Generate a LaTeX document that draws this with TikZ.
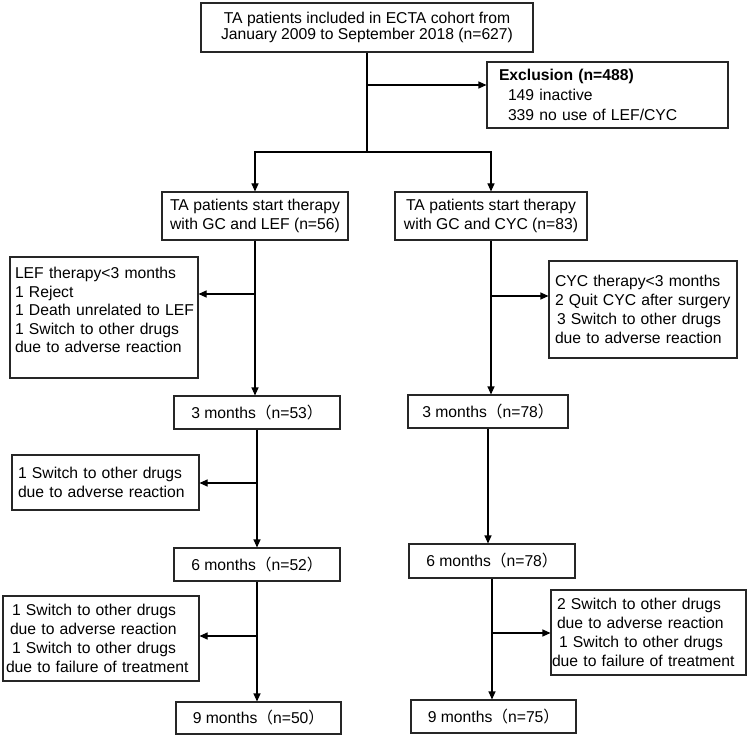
\documentclass[tikz,border=0pt]{standalone}
\usepackage{fontspec}
\setmainfont{Liberation Sans}
\newfontfamily\cjk{Noto Sans CJK SC}
\usetikzlibrary{arrows.meta}
\newcommand\fs{\fontsize{15.7}{19}\selectfont}
\newcommand\mb[1]{\mbox{#1}}
\newcommand\lp{{\cjk （}}
\newcommand\rp{{\cjk ）}}
\begin{document}
\begin{tikzpicture}[x=1pt,y=-1pt,
  box/.style={draw=black!85, line width=1.1pt, inner sep=0pt, font=\fs},
  cbox/.style={box, align=center},
  lbox/.style={box, align=left},
  ln/.style={line width=1.1pt},
  arr/.style={line width=1.1pt, -{Triangle[length=8pt,width=7pt]}}]
\useasboundingbox (0,0) rectangle (750,738);

% top row
\node[cbox, font=\fontsize{15.7}{16.8}\selectfont, minimum width=332pt, minimum height=49pt] (top) at (367,27.5)
  {TA patients included in ECTA cohort from\\January 2009 to September 2018 (n=627)};
\node[lbox, font=\fontsize{15.7}{20}\selectfont, minimum width=241pt, minimum height=66pt, text width=217pt] (excl) at (607.5,95)
  {\mb{\textbf{Exclusion (n=488)}}\\\mb{\hspace*{9pt}149 inactive}\\\mb{\hspace*{9pt}339 no use of LEF/CYC}};

% start boxes
\node[cbox, minimum width=186pt, minimum height=48pt] (lef) at (255,216)
  {TA patients start therapy\\with GC and LEF (n=56)};
\node[cbox, minimum width=192pt, minimum height=48pt] (cycs) at (491,216)
  {TA patients start therapy\\with GC and CYC (n=83)};

% left column
\node[lbox, font=\fontsize{15.7}{18.5}\selectfont, minimum width=188pt, minimum height=121pt, text width=178pt] (lefx) at (104,317.5)
  {\mb{LEF therapy<3 months}\\\mb{1 Reject}\\\mb{1 Death unrelated to LEF}\\\mb{1 Switch to other drugs}\\\mb{due to adverse reaction}\\[-4pt]\mbox{}};
\node[cbox, minimum width=166pt, minimum height=33pt] (m3l) at (257,412.5) {3 months\lp n=53\rp};
\node[lbox, minimum width=187pt, minimum height=55pt, text width=175pt] (sw1) at (105.5,482.5)
  {\mb{1 Switch to other drugs}\\\mb{due to adverse reaction}};
\node[cbox, minimum width=166pt, minimum height=33pt] (m6l) at (257,564.5) {6 months\lp n=52\rp};
\node[lbox, minimum width=196pt, minimum height=85pt, text width=190pt] (swl2) at (101,638.5)
  {\mb{\hspace*{6pt}1 Switch to other drugs}\\\mb{\hspace*{4pt}due to adverse reaction}\\\mb{\hspace*{6pt}1 Switch to other drugs}\\\mb{due to failure of treatment}};
\node[cbox, minimum width=165pt, minimum height=32pt] (m9l) at (258.5,718) {9 months\lp n=50\rp};

% right column
\node[lbox, minimum width=188pt, minimum height=97pt, text width=176pt] (cycx) at (643,309.5)
  {\mb{CYC therapy<3 months}\\\mb{2 Quit CYC after surgery}\\\mb{\hspace*{2pt}3 Switch to other drugs}\\\mb{due to adverse reaction}};
\node[cbox, minimum width=160pt, minimum height=33pt] (m3r) at (488,411.5) {3 months\lp n=78\rp};
\node[cbox, minimum width=166pt, minimum height=34pt] (m6r) at (492,561) {6 months\lp n=78\rp};
\node[lbox, minimum width=195pt, minimum height=85pt, text width=193pt] (swr2) at (648.5,632.5)
  {\mb{\hspace*{5pt}2 Switch to other drugs}\\\mb{\hspace*{5pt}due to adverse reaction}\\\mb{\hspace*{7pt}1 Switch to other drugs}\\\mb{due to failure of treatment}};
\node[cbox, minimum width=165pt, minimum height=33pt] (m9r) at (493.5,716.5) {9 months\lp n=75\rp};

% connectors
\coordinate (br) at (367,152);
\coordinate (ex) at (367,85);
\draw[ln] (top.south) -- (br);
\draw[arr] (ex) -- (ex -| excl.west);
\draw[arr] (br) -| (lef.north);
\draw[arr] (br) -| (cycs.north);

\draw[arr] (lef.south) -- (lef.south |- m3l.north);
\coordinate (b1) at (255,294);
\draw[arr] (b1) -- (b1 -| lefx.east);
\draw[arr] (m3l.south) -- (m3l.south |- m6l.north);
\coordinate (b2) at (257,483);
\draw[arr] (b2) -- (b2 -| sw1.east);
\draw[arr] (m6l.south) -- (m6l.south |- m9l.north);
\coordinate (b3) at (257,636);
\draw[arr] (b3) -- (b3 -| swl2.east);

\draw[arr] (cycs.south) -- (cycs.south |- m3r.north);
\coordinate (b4) at (491,296);
\draw[arr] (b4) -- (b4 -| cycx.west);
\draw[arr] (m3r.south) -- (m3r.south |- m6r.north);
\draw[arr] (m6r.south) -- (m6r.south |- m9r.north);
\coordinate (b5) at (492,633);
\draw[arr] (b5) -- (b5 -| swr2.west);
\end{tikzpicture}
\end{document}
